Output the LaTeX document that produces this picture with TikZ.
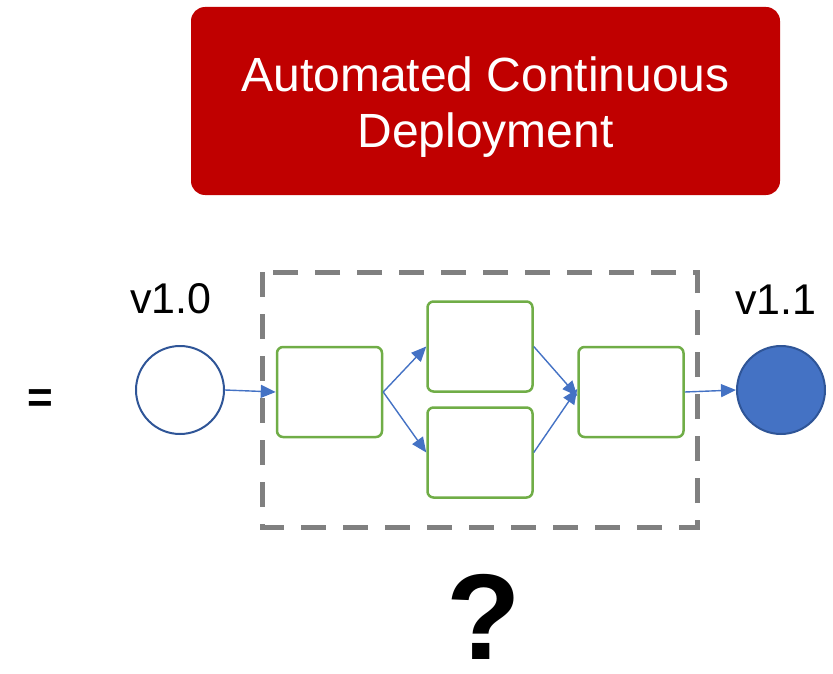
\documentclass[tikz,border=0pt]{standalone}
\usepackage{fontspec}
\setmainfont{Liberation Sans}
\usetikzlibrary{arrows.meta}
\definecolor{deployred}{HTML}{C00000}
\definecolor{stepgreen}{HTML}{70AD47}
\definecolor{flowblue}{HTML}{4472C4}
\definecolor{rimblue}{HTML}{2F5597}
\definecolor{framegray}{HTML}{808080}
\tikzset{
  stepbox/.style={draw=stepgreen, line width=2.5pt, rounded corners=6pt,
    minimum width=105pt, minimum height=90pt, inner sep=0pt},
  version/.style={circle, draw=rimblue, line width=2pt, minimum size=88pt, inner sep=0pt},
  flow/.style={draw=flowblue, line width=1.4pt, -{Triangle[length=15pt,width=13pt]}},
  tag/.style={font=\fontsize{43}{48}\selectfont, inner sep=0pt}
}
\begin{document}
\begin{tikzpicture}[x=1pt, y=-1pt]
\useasboundingbox (0,0) rectangle (833,674);

% title banner
\node[fill=deployred, rounded corners=14pt, minimum width=589pt, minimum height=188pt,
      inner sep=0pt] (title) at (485.5,101) {};
\node[text=white, align=center, font=\fontsize{48}{56}\selectfont, inner sep=0pt]
  (titletext) at (485.5,107) {Automated Continuous\\Deployment};

% dashed frame around the pipeline
\draw[framegray, line width=5pt, dash pattern=on 25pt off 17pt]
  (262,272) rectangle (697,527);

% start and end versions
\node[version] (v0) at (180,390) {};
\node[version, fill=flowblue] (v1) at (781,390) {};
\node[tag] (lv0) at (171,299) {v1.0};
\node[tag] (lv1) at (776,300) {v1.1};
\node[tag, font=\fontsize{44}{48}\selectfont\bfseries] (eq) at (40,401) {=};

% pipeline steps
\node[stepbox] (s1) at (329.5,392) {};
\node[stepbox] (s2) at (480,346.5) {};
\node[stepbox] (s3) at (480,452.5) {};
\node[stepbox] (s4) at (631,392) {};

% connectors
\draw[flow] (v0.east) -- (s1.west);
\draw[flow] (s1.east) -- (s2.west);
\draw[flow] (s1.east) -- (s3.west);
\draw[flow] (s2.east) -- ([yshift=-4pt]s4.west);
\draw[flow] (s3.east) -- ([yshift=3pt]s4.west);
\draw[flow] (s4.east) -- (v1.west);

% open question below
\node[font=\fontsize{122}{124}\selectfont\bfseries, inner sep=0pt] (q) at (484,617) {?};
\end{tikzpicture}
\end{document}
